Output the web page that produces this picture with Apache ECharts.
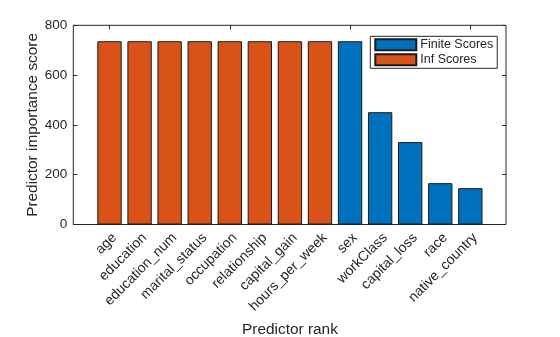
<!DOCTYPE html>
<html><head><meta charset="utf-8">
<script src="https://cdn.jsdelivr.net/npm/echarts@6/dist/echarts.min.js"></script>
<style>html,body{margin:0;padding:0;background:#fff}#c{width:560px;height:337px}</style>
</head><body><div id="c"></div>
<script>
const categories = ['age','education','education_num','marital_status','occupation','relationship','capital_gain','hours_per_week','sex','workClass','capital_loss','race','native_country'];
const finiteScores = [null,null,null,null,null,null,null,null,736,451,331,166,146];
const infScores = [736,736,736,736,736,736,736,736,null,null,null,null,null];
const yTicks = [0,200,400,600,800];

const TXT = '#262626';
const FONT = 'Liberation Sans, Arial, Helvetica, sans-serif';
const boxL = 73.3, boxT = 25.3, boxW = 432.7, boxH = 199.2;
const step = 30.07, firstC = 109.5;
const catL = firstC - step/2, catW = step*categories.length;
const labelDx = 5;

const chart = echarts.init(document.getElementById('c'), null, {renderer:'canvas'});
chart.setOption({
  animation:false,
  backgroundColor:'#fff',
  textStyle:{fontFamily:FONT,color:TXT},
  grid:[
    {left:boxL, top:boxT, width:boxW, height:boxH, show:true, borderColor:TXT, borderWidth:1, backgroundColor:'transparent', containLabel:false, outerBoundsMode:'none'},
    {left:catL, top:boxT, width:catW, height:boxH, containLabel:false, outerBoundsMode:'none'},
    {left:catL+labelDx, top:boxT, width:catW, height:boxH, containLabel:false, outerBoundsMode:'none'}
  ],
  xAxis:[
    {type:'value', gridIndex:0, min:0, max:1, show:false},
    {type:'category', gridIndex:1, data:categories, boundaryGap:true, position:'bottom',
     axisLine:{show:false}, axisTick:{show:true, inside:true, alignWithLabel:true, length:4, lineStyle:{color:TXT}},
     axisLabel:{show:false},
     name:'Predictor rank', nameLocation:'middle', nameGap:98, nameMoveOverlap:false, nameTextStyle:{fontSize:15.4, color:TXT, fontFamily:FONT}},
    {type:'category', gridIndex:1, data:categories, boundaryGap:true, position:'top',
     axisLine:{show:false}, axisTick:{show:true, inside:true, alignWithLabel:true, length:4, lineStyle:{color:TXT}},
     axisLabel:{show:false}},
    {type:'category', gridIndex:2, data:categories, boundaryGap:true, position:'bottom',
     axisLine:{show:false}, axisTick:{show:false},
     axisLabel:{rotate:45, fontSize:14, color:TXT, margin:11, fontFamily:FONT, interval:0}}
  ],
  yAxis:[
    {type:'value', gridIndex:0, min:0, max:800, interval:200, position:'left',
     axisLine:{show:false}, splitLine:{show:false},
     axisTick:{show:true, inside:true, length:4, lineStyle:{color:TXT}},
     axisLabel:{fontSize:13.5, color:TXT, margin:6, fontFamily:FONT, formatter:v=>yTicks.includes(v)?String(v):''},
     name:'Predictor importance score', nameLocation:'middle', nameGap:33, nameMoveOverlap:false, nameTextStyle:{fontSize:15.4, color:TXT, fontFamily:FONT}},
    {type:'value', gridIndex:0, min:0, max:800, interval:200, position:'right',
     axisLine:{show:false}, splitLine:{show:false},
     axisTick:{show:true, inside:true, length:4, lineStyle:{color:TXT}},
     axisLabel:{show:false}},
    {type:'value', gridIndex:1, min:0, max:800, show:false},
    {type:'value', gridIndex:2, min:0, max:800, show:false}
  ],
  legend:{
    orient:'vertical', left:370.3, top:36.3,
    padding:[1,4,1,4], itemGap:0, itemWidth:41, itemHeight:11, icon:'rect',
    borderColor:TXT, borderWidth:1, backgroundColor:'#fff', borderRadius:0,
    textStyle:{fontSize:12.5, color:TXT, fontFamily:FONT, lineHeight:15, padding:[0,0,0,-1]},
    data:['Finite Scores','Inf Scores']
  },
  series:[
    {name:'Finite Scores', type:'bar', xAxisIndex:1, yAxisIndex:2, data:finiteScores, barWidth:'81%', barGap:'-100%',
     itemStyle:{color:'#0072BD', borderColor:'#1a1a1a', borderWidth:1}},
    {name:'Inf Scores', type:'bar', xAxisIndex:1, yAxisIndex:2, data:infScores, barWidth:'81%', barGap:'-100%',
     itemStyle:{color:'#D95319', borderColor:'#1a1a1a', borderWidth:1}}
  ]
});
</script></body></html>
